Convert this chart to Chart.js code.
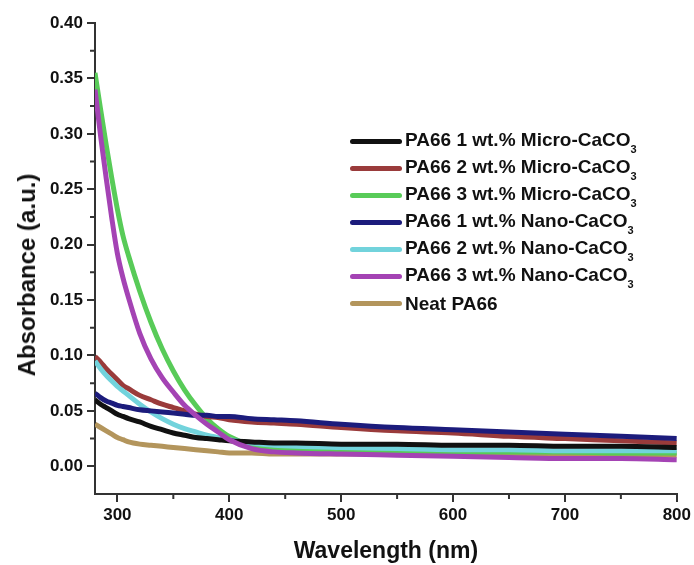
<!DOCTYPE html>
<html>
<head>
    <title>UV-Vis Absorbance</title>
    <script src="https://cdn.jsdelivr.net/npm/chart.js"></script>
    <style>
        body {
            margin: 0;
            background: #fff;
            font-family: "Liberation Sans", Arial, sans-serif;
        }
        #wrap {
            position: relative;
            width: 694px;
            height: 565px;
        }
        #legend {
            position: absolute;
            left: 350px;
            top: 128px;
            font-weight: bold;
            font-size: 19px;
            color: #111;
        }
        .row {
            height: 27px;
            display: flex;
            align-items: center;
            white-space: nowrap;
        }
        .swatch {
            width: 52px;
            height: 5px;
            border-radius: 3px;
            margin-right: 3px;
        }
        sub {
            font-size: 11px;
            vertical-align: -7px;
        }
        #ytitle {
            position: absolute;
            left: 27px;
            top: 275px;
            transform: translate(-50%, -50%) rotate(-90deg);
            font-weight: bold;
            font-size: 24px;
            color: #111;
            white-space: nowrap;
        }
    </style>
</head>
<body>
    <div id="wrap">
        <canvas id="absChart" width="694" height="565"></canvas>
        <div id="ytitle">Absorbance (a.u.)</div>
        <div id="legend"></div>
    </div>

    <script>
        const wavelengths = [280, 285, 290, 295, 300, 305, 310, 320, 330, 340, 350, 360, 370, 380, 390, 400, 420, 440, 460, 500, 550, 600, 650, 700, 750, 800];

        const micro1 = [0.060, 0.056, 0.053, 0.050, 0.047, 0.045, 0.043, 0.040, 0.036, 0.033, 0.030, 0.028, 0.026, 0.025, 0.024, 0.023, 0.022, 0.021, 0.021, 0.020, 0.020, 0.019, 0.019, 0.018, 0.018, 0.017];
        const micro2 = [0.099, 0.094, 0.088, 0.083, 0.078, 0.073, 0.070, 0.064, 0.060, 0.056, 0.053, 0.050, 0.047, 0.045, 0.044, 0.042, 0.040, 0.039, 0.038, 0.035, 0.032, 0.030, 0.027, 0.025, 0.023, 0.021];
        const micro3 = [0.355, 0.322, 0.290, 0.260, 0.232, 0.208, 0.190, 0.158, 0.130, 0.106, 0.086, 0.069, 0.055, 0.043, 0.034, 0.027, 0.019, 0.016, 0.015, 0.014, 0.014, 0.013, 0.013, 0.013, 0.012, 0.012];
        const nano1 = [0.066, 0.062, 0.059, 0.057, 0.055, 0.054, 0.053, 0.051, 0.050, 0.049, 0.048, 0.047, 0.046, 0.046, 0.045, 0.045, 0.043, 0.042, 0.041, 0.038, 0.035, 0.033, 0.031, 0.029, 0.027, 0.025];
        const nano2 = [0.095, 0.088, 0.082, 0.077, 0.072, 0.068, 0.064, 0.056, 0.049, 0.043, 0.038, 0.034, 0.031, 0.028, 0.026, 0.024, 0.021, 0.019, 0.018, 0.017, 0.016, 0.015, 0.015, 0.014, 0.014, 0.014];
        const nano3 = [0.340, 0.298, 0.260, 0.224, 0.192, 0.170, 0.152, 0.120, 0.097, 0.080, 0.067, 0.055, 0.046, 0.038, 0.031, 0.024, 0.016, 0.013, 0.012, 0.011, 0.010, 0.009, 0.008, 0.007, 0.007, 0.006];
        const neat = [0.038, 0.035, 0.032, 0.029, 0.026, 0.024, 0.022, 0.020, 0.019, 0.018, 0.017, 0.016, 0.015, 0.014, 0.013, 0.012, 0.012, 0.011, 0.011, 0.011, 0.011, 0.010, 0.010, 0.010, 0.010, 0.010];

        const xTicks = [300, 400, 500, 600, 700, 800];
        const yTicks = [0.00, 0.05, 0.10, 0.15, 0.20, 0.25, 0.30, 0.35, 0.40];

        const series = [
            { label: 'PA66 1 wt.% Micro-CaCO', sub: '3', data: micro1, color: '#111111', order: 2 },
            { label: 'PA66 2 wt.% Micro-CaCO', sub: '3', data: micro2, color: '#9a3b3b', order: 4 },
            { label: 'PA66 3 wt.% Micro-CaCO', sub: '3', data: micro3, color: '#58cb58', order: 5 },
            { label: 'PA66 1 wt.% Nano-CaCO', sub: '3', data: nano1, color: '#1c1c7c', order: 1 },
            { label: 'PA66 2 wt.% Nano-CaCO', sub: '3', data: nano2, color: '#72d3dc', order: 3 },
            { label: 'PA66 3 wt.% Nano-CaCO', sub: '3', data: nano3, color: '#a443b4', order: 0 },
            { label: 'Neat PA66', sub: '', data: neat, color: '#b3955c', order: 6 }
        ];

        const axisColor = '#333';
        const tickFont = { family: '"Liberation Sans", Arial, sans-serif', size: 17, weight: 'bold' };
        const titleFont = { family: '"Liberation Sans", Arial, sans-serif', size: 23, weight: 'bold' };

        // short minor ticks halfway between the labelled ones
        const minorTicks = {
            id: 'minorTicks',
            afterDraw(chart) {
                const ctx = chart.ctx;
                const xs = chart.scales.x;
                const ys = chart.scales.y;
                ctx.save();
                ctx.strokeStyle = axisColor;
                ctx.lineWidth = 2;
                ctx.beginPath();
                for (let v = 350; v < 800; v += 100) {
                    const px = xs.getPixelForValue(v);
                    ctx.moveTo(px, xs.top);
                    ctx.lineTo(px, xs.top + 5);
                }
                for (let v = 0.025; v < 0.4; v += 0.05) {
                    const py = ys.getPixelForValue(v);
                    ctx.moveTo(ys.right, py);
                    ctx.lineTo(ys.right - 5, py);
                }
                ctx.stroke();
                ctx.restore();
            }
        };

        new Chart(document.getElementById('absChart').getContext('2d'), {
            type: 'line',
            data: {
                datasets: series.map(s => ({
                    label: s.label + s.sub,
                    data: wavelengths.map((w, i) => ({ x: w, y: s.data[i] })),
                    borderColor: s.color,
                    borderWidth: 5,
                    pointRadius: 0,
                    cubicInterpolationMode: 'monotone',
                    fill: false,
                    order: s.order
                }))
            },
            options: {
                responsive: false,
                animation: false,
                layout: { padding: { top: 23, right: 16 } },
                plugins: {
                    legend: { display: false },
                    tooltip: { enabled: false }
                },
                scales: {
                    x: {
                        type: 'linear',
                        min: 280,
                        max: 800,
                        afterBuildTicks: scale => { scale.ticks = xTicks.map(v => ({ value: v })); },
                        afterFit: scale => { scale.height = 71; },
                        border: { display: true, color: axisColor, width: 2 },
                        grid: { drawOnChartArea: false, drawTicks: true, tickLength: 8, color: axisColor, lineWidth: 2 },
                        ticks: { color: '#111', font: tickFont, padding: 3, maxRotation: 0 },
                        title: { display: true, text: 'Wavelength (nm)', color: '#111', font: titleFont, padding: { top: 4, bottom: 0 } }
                    },
                    y: {
                        min: -0.025,
                        max: 0.40,
                        afterBuildTicks: scale => { scale.ticks = yTicks.map(v => ({ value: v })); },
                        afterFit: scale => { scale.width = 95; },
                        border: { display: true, color: axisColor, width: 2 },
                        grid: { drawOnChartArea: false, drawTicks: true, tickLength: 8, color: axisColor, lineWidth: 2 },
                        ticks: { color: '#111', font: tickFont, padding: 4, callback: v => v.toFixed(2) }
                    }
                }
            },
            plugins: [minorTicks]
        });

        // legend with subscripted formula
        const legend = document.getElementById('legend');
        series.forEach(s => {
            const row = document.createElement('div');
            row.className = 'row';
            row.innerHTML = `<span class="swatch" style="background:${s.color}"></span>` +
                `<span>${s.label}${s.sub ? '<sub>' + s.sub + '</sub>' : ''}</span>`;
            legend.appendChild(row);
        });
    </script>
</body>
</html>
